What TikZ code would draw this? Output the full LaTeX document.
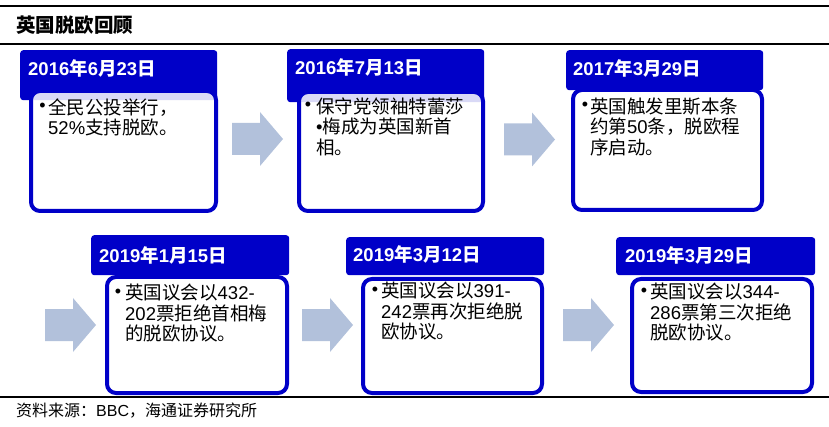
\documentclass[tikz,border=0pt]{standalone}
\usepackage{fontspec}
\setmainfont{Liberation Sans}
\newfontfamily\zhfont{Noto Sans CJK SC}
\newcommand{\zh}[1]{{\zhfont #1}}
\newcommand{\blt}{{\rmfamily\textbullet}}
\definecolor{hdr}{RGB}{0,0,200}
\definecolor{arr}{RGB}{178,193,219}
\tikzset{
  hdrbox/.style={fill=hdr, rounded corners=3pt, inner sep=0pt, anchor=north west},
  bodybox/.style={draw=hdr, line width=4pt, fill=white, fill opacity=0.85, rounded corners=9pt, inner sep=0pt, anchor=north west},
  hdrtext/.style={text=white, font=\fontsize{18.5}{20}\selectfont\bfseries, anchor=west, inner sep=0pt},
  bodytext/.style={font=\fontsize{18.5}{20.5}\selectfont, anchor=north west, align=left, inner sep=0pt},
  bulletdot/.style={font=\fontsize{18}{20}\selectfont, anchor=center, inner sep=0pt},
  blockarrow/.style={fill=arr},
  rulefull/.style={line width=1.2pt, black},
  plain/.style={inner sep=0pt, anchor=west}
}
\newcommand{\barrow}[2]{\fill[blockarrow] (#1,#2-16) -- ++(28,0) -- ++(0,-11) -- ++(23,27) -- ++(-23,27) -- ++(0,-11) -- ++(-28,0) -- cycle;}
\begin{document}
\begin{tikzpicture}[x=1pt,y=-1pt]
\useasboundingbox (0,0) rectangle (829,427);
% rules
\coordinate (r1a) at (0,6);   \coordinate (r1b) at (829,6);
\coordinate (r2a) at (0,44);  \coordinate (r2b) at (829,44);
\coordinate (r3a) at (0,397); \coordinate (r3b) at (829,397);
\draw[rulefull] (r1a) -- (r1b);
\draw[rulefull] (r2a) -- (r2b);
\draw[rulefull] (r3a) -- (r3b);
% title and footer
\node[plain, font=\fontsize{19.5}{22}\selectfont\bfseries] (title) at (16,25) {\zh{英国脱欧回顾}};
\node[plain, font=\fontsize{16}{18}\selectfont] (src) at (16,411) {\zh{资料来源：}BBC\zh{，海通证券研究所}};
% headers
\node[hdrbox, minimum width=197, minimum height=50] (h1) at (20,50) {};
\node[hdrbox, minimum width=197, minimum height=53] (h2) at (287,49) {};
\node[hdrbox, minimum width=197, minimum height=40] (h3) at (566,50) {};
\node[hdrbox, minimum width=198, minimum height=40] (h4) at (91,235) {};
\node[hdrbox, minimum width=198, minimum height=38] (h5) at (346,237) {};
\node[hdrbox, minimum width=199, minimum height=38] (h6) at (616,237) {};
% bodies
\node[bodybox, minimum width=185, minimum height=120] (w1) at (29,89) {};
\node[bodybox, minimum width=184, minimum height=119] (w2) at (297,90) {};
\node[bodybox, minimum width=189, minimum height=120] (w3) at (571,88) {};
\node[bodybox, minimum width=180, minimum height=116] (w4) at (105,275) {};
\node[bodybox, minimum width=179, minimum height=114] (w5) at (361,277) {};
\node[bodybox, minimum width=180, minimum height=113] (w6) at (630,277) {};
% header texts
\node[hdrtext] (d1) at (28,68) {2016\zh{年}6\zh{月}23\zh{日}};
\node[hdrtext] (d2) at (295,67) {2016\zh{年}7\zh{月}13\zh{日}};
\node[hdrtext] (d3) at (573,68) {2017\zh{年}3\zh{月}29\zh{日}};
\node[hdrtext] (d4) at (99,255) {2019\zh{年}1\zh{月}15\zh{日}};
\node[hdrtext] (d5) at (353,254) {2019\zh{年}3\zh{月}12\zh{日}};
\node[hdrtext] (d6) at (625,255) {2019\zh{年}3\zh{月}29\zh{日}};
% bullets
\node[bulletdot] (b1) at (42.5,107.5) {\blt};
\node[bulletdot] (b2) at (308,106.5) {\blt};
\node[bulletdot] (b3) at (585,106.5) {\blt};
\node[bulletdot] (b4) at (118,293) {\blt};
\node[bulletdot] (b5) at (375,291) {\blt};
\node[bulletdot] (b6) at (644,292) {\blt};
% body texts
\node[bodytext] (t1) at (48,98.5) {\zh{全民公投举行，}\\52\%\zh{支持脱欧。}};
\node[bodytext] (t2) at (316,97.5) {\zh{保守党领袖特蕾莎}\\\blt\zh{梅成为英国新首}\\\zh{相。}};
\node[bodytext] (t3) at (590,97.5) {\zh{英国触发里斯本条}\\\zh{约第}50\zh{条，脱欧程}\\\zh{序启动。}};
\node[bodytext] (t4) at (125,284) {\zh{英国议会以}432-\\202\zh{票拒绝首相梅}\\\zh{的脱欧协议。}};
\node[bodytext] (t5) at (381,282) {\zh{英国议会以}391-\\242\zh{票再次拒绝脱}\\\zh{欧协议。}};
\node[bodytext] (t6) at (650,283) {\zh{英国议会以}344-\\286\zh{票第三次拒绝}\\\zh{脱欧协议。}};
% block arrows
\barrow{232}{139}
\barrow{504}{139.5}
\barrow{45}{325}
\barrow{302}{325}
\barrow{563}{325}
\end{tikzpicture}
\end{document}
